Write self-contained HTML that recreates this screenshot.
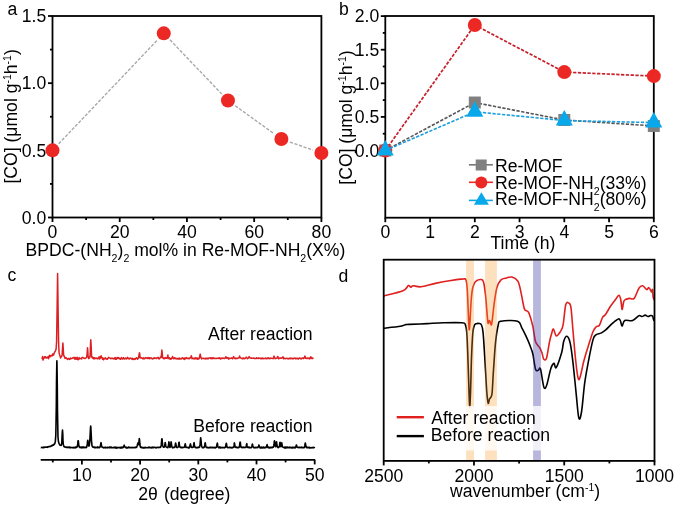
<!DOCTYPE html>
<html><head><meta charset="utf-8"><style>
html,body{margin:0;padding:0;background:#fff;}
svg{display:block;font-family:"Liberation Sans", sans-serif;will-change:transform;}
text{fill:#000;}
</style></head><body>
<svg width="675" height="507" viewBox="0 0 675 507">
<rect width="675" height="507" fill="#fff"/>
<rect x="52.5" y="16.0" width="268.9" height="201.5" fill="none" stroke="#000" stroke-width="1.8"/>
<line x1="52.5" y1="217.5" x2="52.5" y2="222" stroke="#000" stroke-width="1.8" />
<text x="52.5" y="237.6" font-size="17.6" text-anchor="middle" >0</text>
<line x1="119.72" y1="217.5" x2="119.72" y2="222" stroke="#000" stroke-width="1.8" />
<text x="119.72" y="237.6" font-size="17.6" text-anchor="middle" >20</text>
<line x1="186.95" y1="217.5" x2="186.95" y2="222" stroke="#000" stroke-width="1.8" />
<text x="186.95" y="237.6" font-size="17.6" text-anchor="middle" >40</text>
<line x1="254.17" y1="217.5" x2="254.17" y2="222" stroke="#000" stroke-width="1.8" />
<text x="254.17" y="237.6" font-size="17.6" text-anchor="middle" >60</text>
<line x1="321.4" y1="217.5" x2="321.4" y2="222" stroke="#000" stroke-width="1.8" />
<text x="321.4" y="237.6" font-size="17.6" text-anchor="middle" >80</text>
<line x1="86.11" y1="217.5" x2="86.11" y2="220" stroke="#000" stroke-width="1.8" />
<line x1="153.34" y1="217.5" x2="153.34" y2="220" stroke="#000" stroke-width="1.8" />
<line x1="220.56" y1="217.5" x2="220.56" y2="220" stroke="#000" stroke-width="1.8" />
<line x1="287.79" y1="217.5" x2="287.79" y2="220" stroke="#000" stroke-width="1.8" />
<line x1="52.5" y1="217.5" x2="48" y2="217.5" stroke="#000" stroke-width="1.8" />
<text x="46.2" y="223.8" font-size="17.6" text-anchor="end" >0.0</text>
<line x1="52.5" y1="150.33" x2="48" y2="150.33" stroke="#000" stroke-width="1.8" />
<text x="46.2" y="156.63" font-size="17.6" text-anchor="end" >0.5</text>
<line x1="52.5" y1="83.17" x2="48" y2="83.17" stroke="#000" stroke-width="1.8" />
<text x="46.2" y="89.47" font-size="17.6" text-anchor="end" >1.0</text>
<line x1="52.5" y1="16" x2="48" y2="16" stroke="#000" stroke-width="1.8" />
<text x="46.2" y="22.3" font-size="17.6" text-anchor="end" >1.5</text>
<line x1="52.5" y1="183.92" x2="50" y2="183.92" stroke="#000" stroke-width="1.8" />
<line x1="52.5" y1="116.75" x2="50" y2="116.75" stroke="#000" stroke-width="1.8" />
<line x1="52.5" y1="49.58" x2="50" y2="49.58" stroke="#000" stroke-width="1.8" />
<line x1="58.7" y1="143.81" x2="157.56" y2="39.85" stroke="#a6a6a6" stroke-width="1.35" stroke-dasharray="3.2 1.6"/>
<line x1="169.98" y1="39.84" x2="221.74" y2="93.99" stroke="#a6a6a6" stroke-width="1.35" stroke-dasharray="3.2 1.6"/>
<line x1="235.26" y1="105.76" x2="274.1" y2="133.78" stroke="#a6a6a6" stroke-width="1.35" stroke-dasharray="3.2 1.6"/>
<line x1="289.9" y1="142.02" x2="312.9" y2="150.05" stroke="#a6a6a6" stroke-width="1.35" stroke-dasharray="3.2 1.6"/>
<circle cx="52.5" cy="150.33" r="7" fill="#ec2824"/>
<circle cx="163.76" cy="33.33" r="7" fill="#ec2824"/>
<circle cx="227.96" cy="100.5" r="7" fill="#ec2824"/>
<circle cx="281.4" cy="139.05" r="7" fill="#ec2824"/>
<circle cx="321.4" cy="153.02" r="7" fill="#ec2824"/>
<text transform="translate(16.8,116.4) rotate(-90)" font-size="17.6" text-anchor="middle">[CO] (μmol g<tspan font-size="10.5" dy="-6.0">-1</tspan><tspan dy="6.0">h</tspan><tspan font-size="10.5" dy="-6.0">-1</tspan><tspan dy="6.0">)</tspan></text>
<text x="25.6" y="255.8" font-size="17.6">BPDC-(NH<tspan font-size="10.6" dy="6.2">2</tspan><tspan dy="-6.2">)</tspan><tspan font-size="10.6" dy="6.2">2</tspan><tspan dy="-6.2"> mol% in Re-MOF-NH</tspan><tspan font-size="10.6" dy="6.2">2</tspan><tspan dy="-6.2">(X%)</tspan></text>
<text x="7.6" y="14.8" font-size="17.6" text-anchor="start" >a</text>
<rect x="385.3" y="16.0" width="268.5" height="201.7" fill="none" stroke="#000" stroke-width="1.8"/>
<line x1="385.3" y1="217.7" x2="385.3" y2="222.2" stroke="#000" stroke-width="1.8" />
<text x="385.3" y="237.9" font-size="17.6" text-anchor="middle" >0</text>
<line x1="430.05" y1="217.7" x2="430.05" y2="222.2" stroke="#000" stroke-width="1.8" />
<text x="430.05" y="237.9" font-size="17.6" text-anchor="middle" >1</text>
<line x1="474.8" y1="217.7" x2="474.8" y2="222.2" stroke="#000" stroke-width="1.8" />
<text x="474.8" y="237.9" font-size="17.6" text-anchor="middle" >2</text>
<line x1="519.55" y1="217.7" x2="519.55" y2="222.2" stroke="#000" stroke-width="1.8" />
<text x="519.55" y="237.9" font-size="17.6" text-anchor="middle" >3</text>
<line x1="564.3" y1="217.7" x2="564.3" y2="222.2" stroke="#000" stroke-width="1.8" />
<text x="564.3" y="237.9" font-size="17.6" text-anchor="middle" >4</text>
<line x1="609.05" y1="217.7" x2="609.05" y2="222.2" stroke="#000" stroke-width="1.8" />
<text x="609.05" y="237.9" font-size="17.6" text-anchor="middle" >5</text>
<line x1="653.8" y1="217.7" x2="653.8" y2="222.2" stroke="#000" stroke-width="1.8" />
<text x="653.8" y="237.9" font-size="17.6" text-anchor="middle" >6</text>
<line x1="385.3" y1="150.5" x2="380.8" y2="150.5" stroke="#000" stroke-width="1.8" />
<text x="379.2" y="156.8" font-size="17.6" text-anchor="end" >0.0</text>
<line x1="385.3" y1="116.9" x2="380.8" y2="116.9" stroke="#000" stroke-width="1.8" />
<text x="379.2" y="123.2" font-size="17.6" text-anchor="end" >0.5</text>
<line x1="385.3" y1="83.3" x2="380.8" y2="83.3" stroke="#000" stroke-width="1.8" />
<text x="379.2" y="89.6" font-size="17.6" text-anchor="end" >1.0</text>
<line x1="385.3" y1="49.7" x2="380.8" y2="49.7" stroke="#000" stroke-width="1.8" />
<text x="379.2" y="56" font-size="17.6" text-anchor="end" >1.5</text>
<line x1="385.3" y1="16.1" x2="380.8" y2="16.1" stroke="#000" stroke-width="1.8" />
<text x="379.2" y="22.4" font-size="17.6" text-anchor="end" >2.0</text>
<line x1="385.3" y1="133.7" x2="382.8" y2="133.7" stroke="#000" stroke-width="1.8" />
<line x1="385.3" y1="100.1" x2="382.8" y2="100.1" stroke="#000" stroke-width="1.8" />
<line x1="385.3" y1="66.5" x2="382.8" y2="66.5" stroke="#000" stroke-width="1.8" />
<line x1="385.3" y1="32.9" x2="382.8" y2="32.9" stroke="#000" stroke-width="1.8" />
<text transform="translate(352.2,117.5) rotate(-90)" font-size="17.6" text-anchor="middle">[CO] (μmol g<tspan font-size="10.5" dy="-6.0">-1</tspan><tspan dy="6.0">h</tspan><tspan font-size="10.5" dy="-6.0">-1</tspan><tspan dy="6.0">)</tspan></text>
<text x="490.5" y="249" font-size="17.6" text-anchor="start" >Time (h)</text>
<text x="339" y="15.4" font-size="17.6" text-anchor="start" >b</text>
<polyline points="385.3,150.5 474.8,102.52 564.3,119.99 653.8,125.97" fill="none" stroke="#555555" stroke-width="1.6" stroke-dasharray="3.3 1.5"/>
<rect x="379.3" y="144.5" width="12" height="12" fill="#808080"/>
<rect x="468.8" y="96.52" width="12" height="12" fill="#808080"/>
<rect x="558.3" y="113.99" width="12" height="12" fill="#808080"/>
<rect x="647.8" y="119.97" width="12" height="12" fill="#808080"/>
<polyline points="385.3,150.5 474.8,25.04 564.3,72.08 653.8,76.11" fill="none" stroke="#c81f2a" stroke-width="1.7" stroke-dasharray="3.3 1.5"/>
<circle cx="385.3" cy="150.5" r="7" fill="#ec2824"/>
<circle cx="474.8" cy="25.04" r="7" fill="#ec2824"/>
<circle cx="564.3" cy="72.08" r="7" fill="#ec2824"/>
<circle cx="653.8" cy="76.11" r="7" fill="#ec2824"/>
<polyline points="385.3,150.5 474.8,111.79 564.3,120.53 653.8,122.61" fill="none" stroke="#1c9fdc" stroke-width="1.6" stroke-dasharray="3.3 1.5"/>
<polygon points="385.3,140 393.8,155.5 376.8,155.5" fill="#08a8ea"/>
<polygon points="474.8,101.29 483.3,116.79 466.3,116.79" fill="#08a8ea"/>
<polygon points="564.3,110.03 572.8,125.53 555.8,125.53" fill="#08a8ea"/>
<polygon points="653.8,112.11 662.3,127.61 645.3,127.61" fill="#08a8ea"/>
<line x1="468.9" y1="164.8" x2="492.9" y2="164.8" stroke="#777" stroke-width="1.6" />
<rect x="475.7" y="159.5" width="11" height="11" fill="#808080"/>
<text x="495" y="171.5" font-size="17.6" text-anchor="start" >Re-MOF</text>
<line x1="468.9" y1="182.3" x2="492.9" y2="182.3" stroke="#ec2824" stroke-width="1.6" />
<circle cx="481.3" cy="182.5" r="6" fill="#ec2824"/>
<text x="495" y="188.8" font-size="17.6">Re-MOF-NH<tspan font-size="10.6" dy="6.2">2</tspan><tspan dy="-6.2">(33%)</tspan></text>
<line x1="468.9" y1="200.4" x2="492.9" y2="200.4" stroke="#08a8ea" stroke-width="1.6" />
<polygon points="481.4,192.2 488.9,204.8 473.9,204.8" fill="#08a8ea"/>
<text x="495" y="205.1" font-size="17.6">Re-MOF-NH<tspan font-size="10.6" dy="6.2">2</tspan><tspan dy="-6.2">(80%)</tspan></text>
<line x1="40.7" y1="459.9" x2="315.2" y2="459.9" stroke="#000" stroke-width="1.8" />
<line x1="81.9" y1="459.9" x2="81.9" y2="464.4" stroke="#000" stroke-width="1.8" />
<text x="81.9" y="481.4" font-size="17.6" text-anchor="middle" >10</text>
<line x1="140.1" y1="459.9" x2="140.1" y2="464.4" stroke="#000" stroke-width="1.8" />
<text x="140.1" y="481.4" font-size="17.6" text-anchor="middle" >20</text>
<line x1="198.3" y1="459.9" x2="198.3" y2="464.4" stroke="#000" stroke-width="1.8" />
<text x="198.3" y="481.4" font-size="17.6" text-anchor="middle" >30</text>
<line x1="256.5" y1="459.9" x2="256.5" y2="464.4" stroke="#000" stroke-width="1.8" />
<text x="256.5" y="481.4" font-size="17.6" text-anchor="middle" >40</text>
<line x1="314.7" y1="459.9" x2="314.7" y2="464.4" stroke="#000" stroke-width="1.8" />
<text x="314.7" y="481.4" font-size="17.6" text-anchor="middle" >50</text>
<line x1="52.8" y1="459.9" x2="52.8" y2="462.4" stroke="#000" stroke-width="1.8" />
<line x1="111" y1="459.9" x2="111" y2="462.4" stroke="#000" stroke-width="1.8" />
<line x1="169.2" y1="459.9" x2="169.2" y2="462.4" stroke="#000" stroke-width="1.8" />
<line x1="227.4" y1="459.9" x2="227.4" y2="462.4" stroke="#000" stroke-width="1.8" />
<line x1="285.6" y1="459.9" x2="285.6" y2="462.4" stroke="#000" stroke-width="1.8" />
<text x="138.3" y="499.9" font-size="17.6" text-anchor="start" >2θ<tspan dx="1.2"> (degree)</tspan></text>
<text x="7.4" y="281.4" font-size="17.6" text-anchor="start" >c</text>
<text x="208" y="339.9" font-size="17.6" text-anchor="start" >After reaction</text>
<text x="193.2" y="432.3" font-size="17.6" text-anchor="start" >Before reaction</text>
<polyline points="40.8,447.5 41.0,447.6 41.3,447.5 41.5,447.5 41.8,447.3 42.0,447.5 42.3,447.7 42.5,447.6 42.8,447.7 43.0,447.5 43.3,447.5 43.5,447.5 43.8,447.1 44.0,447.6 44.3,447.5 44.5,447.5 44.8,447.0 45.0,447.0 45.3,447.1 45.5,447.2 45.8,447.3 46.0,447.2 46.3,447.3 46.5,447.0 46.8,447.2 47.0,447.2 47.3,446.9 47.5,447.3 47.8,447.1 48.0,447.1 48.3,446.7 48.5,446.6 48.8,446.7 49.0,446.6 49.3,446.7 49.5,446.6 49.8,446.4 50.0,446.2 50.3,446.2 50.5,446.5 50.8,446.0 51.0,446.1 51.3,446.0 51.5,445.6 51.8,445.8 52.0,445.9 52.3,445.2 52.5,445.4 52.8,445.3 53.0,445.0 53.3,445.2 53.5,444.9 53.8,444.4 54.0,444.6 54.3,444.3 54.5,444.0 54.8,443.7 55.0,442.8 55.3,441.7 55.5,439.4 55.8,435.2 56.0,424.9 56.3,406.8 56.5,382.3 56.8,362.9 56.9,360.9 57.0,366.0 57.3,387.2 57.5,411.0 57.8,427.8 58.0,436.8 58.3,440.5 58.5,441.8 58.8,442.6 59.0,443.7 59.3,444.0 59.5,444.2 59.8,444.9 60.0,445.1 60.3,445.1 60.5,445.2 60.8,445.3 61.0,445.5 61.3,445.2 61.5,444.6 61.8,442.6 62.0,437.9 62.3,432.4 62.5,430.0 62.5,430.1 62.8,434.4 63.0,440.5 63.3,444.3 63.5,445.2 63.8,446.0 64.0,446.5 64.3,446.3 64.5,447.0 64.8,446.9 65.0,446.8 65.3,447.0 65.5,447.1 65.8,447.1 66.0,447.3 66.3,447.0 66.5,447.1 66.8,447.4 67.0,447.3 67.3,447.1 67.5,447.5 67.8,447.6 68.0,447.3 68.3,447.1 68.5,447.4 68.8,447.4 69.0,447.4 69.3,447.7 69.5,447.2 69.8,447.7 70.0,447.2 70.3,447.3 70.5,447.6 70.8,447.7 71.0,447.7 71.3,447.6 71.5,447.5 71.8,447.5 72.0,447.6 72.3,447.5 72.5,447.6 72.8,447.6 73.0,447.5 73.3,447.7 73.5,447.6 73.8,447.9 74.0,447.6 74.3,447.4 74.5,447.4 74.8,447.5 75.0,447.7 75.3,447.4 75.5,447.5 75.8,447.8 76.0,446.9 76.3,447.1 76.5,447.4 76.8,447.3 77.0,447.1 77.3,446.5 77.5,445.5 77.8,443.3 78.0,440.9 78.2,440.9 78.3,440.8 78.5,442.6 78.8,445.0 79.0,446.3 79.3,447.0 79.5,446.7 79.8,447.2 80.0,447.6 80.3,447.2 80.5,447.4 80.8,447.6 81.0,447.6 81.3,447.8 81.5,447.1 81.8,447.4 82.0,447.4 82.3,447.6 82.5,447.7 82.8,446.9 83.0,447.7 83.3,447.2 83.5,447.6 83.8,447.1 84.0,447.5 84.3,447.7 84.5,447.4 84.8,447.4 85.0,447.5 85.3,447.4 85.5,447.3 85.8,447.6 86.0,447.4 86.3,447.1 86.5,447.5 86.8,446.4 87.0,445.9 87.3,443.9 87.5,441.5 87.8,440.2 88.0,441.4 88.3,443.8 88.5,445.0 88.8,445.6 89.0,446.1 89.3,445.2 89.5,443.8 89.8,441.1 90.0,437.3 90.3,431.8 90.5,427.5 90.7,426.1 90.8,426.7 91.0,430.4 91.3,436.2 91.5,441.0 91.8,443.6 92.0,445.7 92.3,446.4 92.5,446.6 92.8,446.4 93.0,447.3 93.3,447.1 93.5,447.0 93.8,447.3 94.0,447.3 94.3,447.6 94.5,447.1 94.8,447.6 95.0,447.7 95.3,447.7 95.5,447.4 95.8,447.3 96.0,447.6 96.3,447.5 96.5,447.5 96.8,447.7 97.0,447.4 97.3,447.0 97.5,447.4 97.8,447.1 98.0,447.6 98.3,447.5 98.5,447.3 98.8,447.4 99.0,447.6 99.3,447.4 99.5,447.6 99.8,447.2 100.0,447.2 100.3,446.6 100.5,445.4 100.8,443.4 101.0,443.1 101.0,442.6 101.3,443.9 101.5,445.3 101.8,446.9 102.0,446.9 102.3,447.3 102.5,447.4 102.8,447.4 103.0,447.4 103.3,447.5 103.5,447.9 103.8,447.5 104.0,447.6 104.3,447.7 104.5,447.5 104.8,447.3 105.0,447.4 105.3,447.8 105.5,447.2 105.8,447.4 106.0,447.8 106.3,447.7 106.5,447.6 106.8,447.7 107.0,447.6 107.3,447.3 107.5,447.3 107.8,447.4 108.0,447.8 108.3,447.5 108.5,447.4 108.8,447.4 109.0,447.3 109.3,447.6 109.5,447.3 109.8,447.6 110.0,447.1 110.3,447.6 110.5,447.4 110.8,447.2 111.0,447.7 111.3,447.5 111.5,447.1 111.8,447.4 112.0,447.6 112.3,447.5 112.5,447.7 112.8,447.7 113.0,447.7 113.3,447.6 113.5,447.8 113.8,447.7 114.0,447.7 114.3,447.2 114.5,447.8 114.8,447.8 115.0,447.5 115.3,447.5 115.5,448.0 115.8,447.2 116.0,447.7 116.3,448.1 116.5,447.4 116.8,447.7 117.0,448.0 117.3,447.6 117.5,447.7 117.8,447.8 118.0,447.4 118.3,447.6 118.5,447.6 118.8,447.7 119.0,447.6 119.3,447.5 119.5,447.4 119.8,447.5 120.0,447.8 120.3,447.6 120.5,447.4 120.8,447.4 121.0,448.1 121.3,447.8 121.5,447.7 121.8,447.0 122.0,447.7 122.3,447.6 122.5,447.9 122.8,447.6 123.0,447.4 123.3,447.4 123.5,446.5 123.8,446.4 124.0,445.5 124.2,445.1 124.3,445.6 124.5,446.4 124.8,446.5 125.0,447.1 125.3,447.5 125.5,447.5 125.8,447.4 126.0,447.3 126.3,448.0 126.5,447.8 126.8,447.3 127.0,447.3 127.3,447.9 127.5,447.8 127.8,447.9 128.1,447.7 128.3,447.4 128.6,447.6 128.8,447.1 129.1,447.4 129.3,447.6 129.6,447.7 129.8,447.4 130.1,447.5 130.3,447.7 130.6,447.6 130.8,447.7 131.1,447.6 131.3,447.5 131.6,447.7 131.8,447.6 132.1,447.4 132.3,447.4 132.6,447.6 132.8,447.5 133.1,447.6 133.3,447.5 133.6,447.6 133.8,447.5 134.1,447.3 134.3,447.6 134.6,447.7 134.8,447.6 135.1,447.5 135.3,447.6 135.6,447.3 135.8,447.1 136.1,447.4 136.3,447.2 136.6,447.4 136.8,446.8 137.1,446.0 137.3,445.2 137.6,444.3 137.8,443.1 138.1,443.5 138.3,444.5 138.6,444.7 138.8,442.9 139.1,440.0 139.3,438.6 139.6,440.2 139.8,443.2 140.1,445.6 140.3,446.9 140.6,447.2 140.8,447.4 141.1,447.1 141.3,447.3 141.6,447.6 141.8,447.4 142.1,447.7 142.3,447.6 142.6,447.7 142.8,447.5 143.1,448.0 143.3,447.8 143.6,447.5 143.8,447.6 144.1,448.1 144.3,447.5 144.6,447.7 144.8,447.8 145.1,447.6 145.3,447.3 145.6,447.6 145.8,447.6 146.1,447.8 146.3,447.7 146.6,447.6 146.8,447.7 147.1,447.7 147.3,447.6 147.6,447.6 147.8,447.5 148.1,447.7 148.3,447.4 148.6,447.4 148.8,447.6 149.1,447.3 149.3,447.5 149.6,447.2 149.8,447.4 150.1,447.7 150.3,447.7 150.6,447.6 150.8,447.5 151.1,447.3 151.3,447.9 151.6,447.7 151.8,447.8 152.1,447.4 152.3,447.5 152.6,447.2 152.8,447.7 153.1,447.8 153.3,447.2 153.6,447.6 153.8,447.7 154.1,447.2 154.3,447.2 154.6,447.4 154.8,447.4 155.1,447.3 155.3,447.6 155.6,447.6 155.8,447.7 156.1,447.7 156.3,447.9 156.6,447.8 156.8,447.3 157.1,447.4 157.3,447.3 157.6,447.3 157.8,447.5 158.1,447.5 158.3,447.6 158.6,447.2 158.8,447.2 159.1,447.5 159.3,447.4 159.6,447.4 159.8,447.4 160.1,447.2 160.3,447.4 160.6,447.2 160.8,446.8 161.1,446.0 161.3,444.4 161.6,441.1 161.8,438.9 161.9,438.8 162.1,439.1 162.3,442.2 162.6,444.8 162.8,446.0 163.1,446.8 163.3,447.0 163.6,447.3 163.8,447.3 164.1,447.2 164.3,446.8 164.6,446.4 164.8,445.0 165.1,443.2 165.2,442.6 165.3,442.7 165.6,444.4 165.8,446.2 166.1,446.9 166.3,447.0 166.6,447.3 166.8,447.2 167.1,447.4 167.3,447.5 167.6,447.2 167.8,447.7 168.1,446.9 168.3,446.4 168.6,444.6 168.8,442.8 168.9,441.9 169.1,442.7 169.3,444.9 169.6,446.5 169.8,447.4 170.1,447.1 170.3,447.0 170.6,445.9 170.8,443.9 171.1,442.1 171.1,441.9 171.3,443.0 171.6,444.9 171.8,446.8 172.1,446.9 172.3,447.3 172.6,447.8 172.8,447.4 173.1,447.4 173.3,447.7 173.6,447.4 173.8,447.3 174.1,447.5 174.3,447.5 174.6,447.4 174.8,446.8 175.1,446.5 175.3,444.8 175.6,443.0 175.6,443.0 175.8,443.6 176.1,445.8 176.3,446.6 176.6,447.3 176.8,447.2 177.1,447.2 177.3,447.5 177.6,447.6 177.8,447.3 178.1,447.0 178.3,446.7 178.6,445.1 178.8,443.0 179.0,442.3 179.1,442.2 179.3,443.7 179.6,446.3 179.8,446.9 180.1,447.4 180.3,447.2 180.6,447.4 180.8,447.1 181.1,447.8 181.3,447.8 181.6,447.3 181.8,447.2 182.1,447.2 182.3,447.7 182.6,447.4 182.8,447.5 183.1,447.4 183.3,447.5 183.6,447.3 183.8,447.5 184.1,447.1 184.3,447.2 184.6,446.9 184.8,445.9 185.1,444.3 185.2,443.8 185.3,444.2 185.6,445.4 185.8,447.0 186.1,447.4 186.3,447.4 186.6,447.3 186.8,447.3 187.1,447.3 187.3,447.4 187.6,447.6 187.8,447.6 188.1,447.6 188.3,447.9 188.6,447.3 188.8,447.5 189.1,448.0 189.3,447.0 189.6,447.1 189.8,446.7 190.1,445.5 190.3,444.2 190.4,443.9 190.6,444.4 190.8,445.8 191.1,447.0 191.3,446.9 191.6,447.2 191.8,447.4 192.1,447.2 192.3,447.2 192.6,447.5 192.8,447.2 193.1,447.3 193.3,446.9 193.6,445.6 193.8,443.9 194.0,442.9 194.1,442.7 194.3,444.5 194.6,446.3 194.8,446.9 195.1,447.3 195.3,447.5 195.6,447.3 195.8,447.6 196.1,447.8 196.3,447.4 196.6,447.5 196.8,447.5 197.1,447.8 197.3,447.5 197.6,447.6 197.8,447.3 198.1,447.4 198.3,447.4 198.6,447.0 198.8,447.6 199.1,447.4 199.3,446.8 199.6,447.0 199.8,446.2 200.1,444.6 200.3,441.7 200.6,438.2 200.7,437.7 200.8,438.4 201.1,440.8 201.3,443.8 201.6,445.7 201.8,446.5 202.1,447.2 202.3,447.6 202.6,447.4 202.8,447.4 203.1,447.8 203.3,447.3 203.6,447.2 203.8,447.5 204.1,447.4 204.3,446.9 204.6,446.3 204.8,445.3 205.1,443.5 205.2,442.7 205.3,443.1 205.6,444.8 205.8,446.5 206.1,447.1 206.3,447.3 206.6,447.3 206.8,447.7 207.1,447.8 207.3,447.4 207.6,447.7 207.8,447.4 208.1,447.6 208.3,447.7 208.6,447.9 208.8,447.5 209.1,447.5 209.3,447.6 209.6,447.3 209.8,447.6 210.1,447.4 210.3,447.6 210.6,447.3 210.8,447.2 211.1,447.6 211.3,447.6 211.6,447.5 211.8,447.7 212.1,447.5 212.3,447.4 212.6,447.7 212.8,447.3 213.1,447.4 213.3,447.6 213.6,447.7 213.8,447.5 214.1,447.6 214.3,447.4 214.6,447.6 214.8,447.9 215.1,447.4 215.3,448.0 215.6,447.4 215.8,447.5 216.1,447.4 216.3,447.5 216.6,446.7 216.8,445.5 217.1,444.3 217.3,443.1 217.6,444.3 217.8,446.5 218.1,447.0 218.3,447.3 218.6,447.6 218.8,447.5 219.1,447.8 219.3,447.3 219.6,447.5 219.8,446.8 220.1,447.7 220.3,447.5 220.6,447.7 220.8,448.0 221.1,447.6 221.3,447.5 221.6,447.5 221.8,447.4 222.1,447.4 222.3,447.7 222.6,447.6 222.8,447.6 223.1,447.5 223.3,447.7 223.6,447.6 223.8,447.5 224.1,447.7 224.3,447.5 224.6,447.3 224.8,447.8 225.1,447.5 225.3,447.1 225.6,447.2 225.8,446.0 226.1,443.8 226.3,443.3 226.6,444.2 226.8,446.1 227.1,447.0 227.3,447.3 227.6,447.1 227.8,447.7 228.1,447.5 228.3,447.5 228.6,447.6 228.8,447.5 229.1,447.7 229.3,447.5 229.6,447.5 229.8,447.1 230.1,447.5 230.3,447.7 230.6,447.8 230.8,447.5 231.1,447.5 231.3,447.9 231.6,447.5 231.8,447.7 232.1,447.9 232.3,447.5 232.6,447.7 232.8,447.3 233.1,447.5 233.3,447.3 233.6,447.1 233.8,446.7 234.1,445.4 234.3,443.1 234.4,442.9 234.6,443.6 234.8,445.1 235.1,446.7 235.3,447.3 235.6,447.3 235.8,447.5 236.1,447.2 236.3,447.6 236.6,447.2 236.8,447.4 237.1,447.4 237.3,447.4 237.6,447.7 237.8,447.5 238.1,447.4 238.3,447.6 238.6,447.7 238.8,447.4 239.1,447.3 239.3,447.1 239.6,445.8 239.8,443.3 240.1,442.2 240.1,442.0 240.3,442.2 240.6,445.0 240.8,446.6 241.1,447.3 241.3,447.5 241.6,447.4 241.8,447.2 242.1,447.5 242.3,447.7 242.6,447.3 242.8,447.3 243.1,447.5 243.3,447.1 243.6,447.5 243.8,447.4 244.1,447.6 244.3,447.4 244.6,447.3 244.8,447.4 245.1,447.5 245.3,447.3 245.6,447.4 245.8,447.4 246.1,447.1 246.3,446.1 246.6,444.2 246.7,443.9 246.8,443.7 247.1,445.9 247.3,446.5 247.6,447.2 247.8,447.5 248.1,447.2 248.3,447.6 248.6,447.5 248.8,447.2 249.1,447.6 249.3,447.8 249.6,447.2 249.8,447.7 250.1,447.6 250.3,447.6 250.6,447.6 250.8,447.7 251.1,447.4 251.3,447.6 251.6,447.1 251.8,446.8 252.1,445.3 252.3,444.1 252.4,444.3 252.6,444.4 252.8,445.7 253.1,446.6 253.3,447.1 253.6,447.5 253.8,447.7 254.1,447.6 254.3,447.6 254.6,447.5 254.8,447.8 255.1,447.5 255.3,447.4 255.6,447.7 255.8,447.6 256.1,447.5 256.3,447.4 256.6,447.5 256.8,447.7 257.1,447.6 257.3,447.3 257.6,447.6 257.8,447.5 258.1,447.1 258.3,447.1 258.6,446.0 258.8,445.0 258.9,445.1 259.1,445.5 259.3,446.1 259.6,447.1 259.8,447.2 260.1,447.9 260.3,447.4 260.6,447.8 260.8,447.4 261.1,447.7 261.3,448.0 261.6,447.0 261.8,447.5 262.1,447.7 262.3,447.5 262.6,447.4 262.8,448.0 263.1,447.6 263.3,447.2 263.6,447.7 263.8,447.2 264.1,447.8 264.3,447.4 264.6,447.6 264.8,447.8 265.1,447.6 265.3,447.2 265.6,447.2 265.8,447.7 266.1,447.5 266.3,447.0 266.6,446.6 266.8,445.5 267.0,445.1 267.1,444.6 267.3,445.8 267.6,447.0 267.8,447.4 268.1,447.6 268.3,447.0 268.6,447.5 268.8,447.6 269.1,448.0 269.3,447.3 269.6,447.5 269.8,447.5 270.1,447.7 270.3,447.4 270.6,447.8 270.8,447.4 271.1,447.6 271.3,447.4 271.6,447.5 271.8,447.3 272.1,447.1 272.3,447.7 272.6,447.5 272.8,447.2 273.1,447.3 273.3,447.2 273.6,446.3 273.8,445.2 274.1,443.2 274.3,441.3 274.4,440.9 274.6,441.1 274.8,443.8 275.1,445.5 275.3,446.4 275.6,446.7 275.8,446.4 276.1,444.9 276.3,442.6 276.5,441.7 276.6,441.8 276.8,443.6 277.1,445.5 277.3,446.9 277.6,446.9 277.8,447.4 278.1,447.1 278.3,447.4 278.6,447.6 278.8,447.3 279.1,447.0 279.3,446.6 279.6,445.3 279.8,442.9 280.0,442.2 280.1,442.4 280.3,443.9 280.6,445.8 280.8,446.7 281.1,446.5 281.3,445.3 281.6,443.4 281.7,442.8 281.8,443.1 282.1,444.8 282.3,446.3 282.6,447.0 282.8,447.0 283.1,447.3 283.3,447.4 283.6,447.3 283.8,447.5 284.1,447.6 284.3,447.5 284.6,447.9 284.8,447.0 285.1,447.5 285.3,447.2 285.6,447.8 285.8,448.1 286.1,447.1 286.3,447.6 286.6,447.7 286.8,447.5 287.1,447.7 287.3,447.1 287.6,447.7 287.8,447.6 288.1,447.6 288.3,447.5 288.6,447.7 288.8,447.5 289.1,447.6 289.3,447.5 289.6,447.1 289.8,447.6 290.1,447.6 290.3,447.7 290.6,447.4 290.8,447.6 291.1,447.7 291.3,447.6 291.6,447.8 291.8,448.0 292.1,447.4 292.3,447.2 292.6,447.7 292.8,447.9 293.1,447.8 293.3,447.7 293.6,447.4 293.8,447.4 294.1,447.7 294.3,447.4 294.6,447.2 294.8,447.3 295.1,448.0 295.3,447.8 295.6,447.2 295.8,446.8 296.1,446.1 296.3,445.0 296.4,445.3 296.6,445.2 296.8,446.1 297.1,447.3 297.3,447.3 297.6,447.5 297.8,447.5 298.1,447.5 298.3,447.6 298.6,447.4 298.8,447.2 299.1,447.1 299.3,447.3 299.6,447.4 299.8,447.6 300.1,447.6 300.3,447.7 300.6,447.6 300.8,447.4 301.1,447.4 301.3,447.1 301.6,447.5 301.8,447.7 302.1,447.7 302.3,447.5 302.6,447.5 302.8,447.7 303.1,447.5 303.3,447.7 303.6,447.6 303.8,447.5 304.1,447.7 304.3,447.2 304.6,446.8 304.8,445.7 305.1,443.8 305.3,443.0 305.6,444.3 305.8,445.8 306.1,447.0 306.3,447.5 306.6,447.6 306.8,447.7 307.1,447.2 307.3,447.4 307.6,447.6 307.8,447.8 308.1,447.6 308.3,447.4 308.6,447.5 308.8,447.4 309.1,447.4 309.3,447.9 309.6,447.5 309.8,447.6 310.1,448.0 310.3,447.8 310.6,447.7 310.8,447.5 311.1,447.7 311.3,447.9 311.6,447.7 311.8,447.8 312.1,447.6 312.3,447.7 312.6,447.6 312.8,447.7 313.1,447.9 313.3,447.3 313.6,447.6 313.8,447.6 314.1,447.5 314.3,447.5 314.6,447.8 314.8,448.0" fill="none" stroke="#000" stroke-width="1.6" stroke-linejoin="round"/>
<polyline points="41.6,358.9 42.1,358.5 42.6,356.6 43.1,360.1 43.6,358.1 44.1,358.0 44.6,356.8 45.1,357.8 45.6,356.7 46.1,357.8 46.6,358.1 47.1,357.6 47.6,357.7 48.1,356.5 48.6,358.7 49.1,356.6 49.6,355.3 50.1,356.8 50.6,356.0 51.1,355.5 51.6,355.8 52.1,356.0 52.6,353.9 53.1,354.3 53.6,355.1 54.1,353.6 54.6,352.0 55.1,351.6 55.6,350.5 56.1,349.0 56.6,341.2 57.1,308.7 57.6,273.4 58.1,310.2 58.6,342.9 59.1,353.1 59.6,354.7 60.1,356.2 60.6,358.1 61.1,356.4 61.6,356.4 62.1,354.9 62.6,346.7 62.9,343.0 63.1,346.4 63.6,354.7 64.1,356.3 64.6,357.0 65.1,358.4 65.6,357.6 66.1,357.9 66.6,358.4 67.1,359.0 67.6,359.4 68.1,358.9 68.6,358.4 69.1,358.4 69.6,359.4 70.1,359.2 70.6,358.1 71.1,358.6 71.6,358.5 72.1,358.4 72.6,358.0 73.1,357.5 73.6,358.0 74.1,357.4 74.6,359.1 75.1,358.7 75.6,357.6 76.1,359.2 76.6,358.9 77.1,357.2 77.6,359.5 78.1,358.8 78.6,359.6 79.1,357.6 79.6,358.7 80.1,358.6 80.6,358.5 81.1,358.5 81.6,359.0 82.1,357.4 82.6,357.6 83.1,357.5 83.6,358.0 84.1,357.9 84.6,358.5 85.1,358.4 85.6,358.2 86.1,357.7 86.6,357.4 87.1,354.1 87.5,347.7 87.6,348.0 88.1,355.9 88.6,358.6 89.1,357.4 89.6,357.9 90.1,355.7 90.6,342.4 90.8,339.7 91.1,345.0 91.6,356.7 92.1,357.8 92.6,357.1 93.1,358.5 93.6,357.7 94.1,359.0 94.6,357.9 95.1,358.2 95.6,358.5 96.1,358.1 96.6,358.5 97.1,358.0 97.6,358.8 98.1,358.4 98.6,358.5 99.1,356.7 99.6,359.0 100.1,358.3 100.6,356.8 101.1,355.8 101.2,355.9 101.6,357.8 102.1,357.6 102.6,359.2 103.1,358.2 103.6,359.8 104.1,358.3 104.6,358.8 105.1,358.2 105.6,357.7 106.1,359.0 106.6,358.9 107.1,359.3 107.6,358.9 108.1,358.0 108.6,357.4 109.1,358.0 109.6,358.0 110.1,357.9 110.6,358.7 111.1,358.6 111.6,358.2 112.1,358.5 112.6,358.3 113.1,358.5 113.6,358.8 114.1,359.0 114.6,358.0 115.1,357.5 115.6,359.2 116.1,358.5 116.6,359.1 117.1,357.4 117.6,358.2 118.1,358.4 118.6,357.5 119.1,358.1 119.6,358.8 120.1,359.0 120.6,359.3 121.1,357.9 121.6,357.6 122.1,358.7 122.6,359.0 123.1,358.5 123.6,357.6 124.1,358.9 124.6,358.9 125.1,358.7 125.6,358.1 126.1,358.6 126.6,358.9 127.1,358.1 127.6,357.3 128.1,358.6 128.6,358.7 129.1,358.4 129.6,358.9 130.1,358.0 130.6,358.3 131.1,358.2 131.6,358.7 132.1,359.3 132.6,358.2 133.1,359.6 133.6,359.3 134.1,358.9 134.6,358.7 135.1,359.4 135.6,358.3 136.1,358.3 136.6,357.7 137.1,358.6 137.6,359.1 138.1,358.5 138.6,357.8 139.1,354.4 139.4,353.0 139.6,352.9 140.1,357.7 140.6,357.9 141.1,357.8 141.6,358.0 142.1,358.0 142.6,358.7 143.1,358.8 143.6,357.8 144.1,358.8 144.6,358.8 145.1,358.1 145.6,357.7 146.1,358.1 146.6,358.1 147.1,358.5 147.6,358.2 148.1,357.5 148.6,358.5 149.1,357.7 149.6,358.8 150.1,357.8 150.6,358.1 151.1,358.0 151.6,358.1 152.1,359.0 152.6,358.8 153.1,358.7 153.6,358.5 154.1,357.7 154.6,358.2 155.1,358.1 155.6,357.9 156.1,358.6 156.6,358.0 157.1,358.1 157.6,357.9 158.1,357.4 158.6,358.6 159.1,358.9 159.6,358.4 160.1,357.8 160.6,356.9 161.1,357.5 161.6,353.3 161.9,350.0 162.1,351.8 162.6,357.6 163.1,358.5 163.6,358.0 164.1,358.7 164.6,358.7 165.1,357.6 165.6,358.1 166.1,357.7 166.6,358.2 167.1,358.4 167.6,356.3 167.9,355.1 168.1,357.0 168.6,358.1 169.1,358.9 169.6,357.7 170.1,358.8 170.6,359.3 171.1,359.2 171.6,358.2 172.1,357.8 172.6,356.4 173.1,358.2 173.6,358.7 174.1,358.4 174.6,357.7 175.1,358.7 175.6,358.2 176.1,358.7 176.6,358.5 177.1,359.1 177.6,358.9 178.1,358.2 178.6,358.5 179.1,359.2 179.6,358.1 180.1,358.6 180.6,358.9 181.1,359.0 181.6,358.6 182.1,357.8 182.6,357.8 183.1,358.5 183.6,358.6 184.1,359.5 184.6,358.0 185.1,358.9 185.6,358.7 186.1,357.6 186.6,358.0 187.1,358.5 187.6,358.2 188.1,358.3 188.6,358.6 189.1,358.0 189.6,358.6 190.1,358.0 190.6,357.7 191.1,356.7 191.3,355.7 191.6,356.9 192.1,358.8 192.6,358.3 193.1,358.3 193.6,358.7 194.1,358.2 194.6,358.9 195.1,357.8 195.6,358.7 196.1,358.1 196.6,358.0 197.1,359.2 197.6,358.0 198.1,359.1 198.6,358.6 199.1,358.8 199.6,356.8 200.1,354.3 200.2,354.1 200.6,356.0 201.1,358.0 201.6,359.0 202.1,358.4 202.6,358.2 203.1,358.2 203.6,358.5 204.1,358.5 204.6,358.4 205.1,358.9 205.6,358.3 206.1,358.5 206.6,358.8 207.1,358.1 207.6,358.7 208.1,358.9 208.6,358.0 209.1,358.1 209.6,358.1 210.1,357.8 210.6,358.5 211.1,357.8 211.6,358.5 212.1,358.8 212.6,357.9 213.1,358.3 213.6,357.8 214.1,358.6 214.6,358.2 215.1,358.3 215.6,358.4 216.1,358.6 216.6,358.3 217.1,358.4 217.6,358.2 218.1,358.4 218.6,358.0 219.1,358.4 219.6,357.8 220.1,358.2 220.6,359.0 221.1,358.4 221.6,358.0 222.1,358.5 222.6,358.1 223.1,357.9 223.6,358.2 224.1,358.6 224.6,358.5 225.1,358.2 225.6,357.2 225.9,356.7 226.1,357.6 226.6,358.2 227.1,358.1 227.6,357.7 228.1,358.0 228.6,359.1 229.1,358.0 229.6,358.4 230.1,358.4 230.6,358.3 231.1,358.3 231.6,358.0 232.1,358.0 232.6,358.8 233.1,357.5 233.5,357.2 233.6,356.6 234.1,358.0 234.6,358.4 235.1,358.7 235.6,358.0 236.1,358.6 236.6,358.5 237.1,358.2 237.6,358.5 238.1,358.1 238.6,358.1 239.1,358.0 239.6,356.1 239.7,356.8 240.1,357.3 240.6,357.8 241.1,358.2 241.6,358.6 242.1,358.3 242.6,358.8 243.1,358.0 243.6,358.0 244.1,358.8 244.6,358.5 245.1,358.6 245.6,357.9 246.1,357.5 246.3,357.1 246.6,357.7 247.1,358.2 247.6,358.7 248.1,358.1 248.6,357.7 249.1,356.6 249.2,357.3 249.6,357.5 250.1,358.0 250.6,358.1 251.1,358.2 251.6,358.0 252.1,358.3 252.6,358.2 253.1,358.2 253.6,358.1 254.1,358.4 254.6,358.3 255.1,358.4 255.6,358.5 256.1,358.5 256.6,357.7 257.1,358.2 257.6,358.2 258.1,358.6 258.6,357.9 259.1,358.2 259.6,358.3 260.1,358.3 260.6,358.7 261.1,358.3 261.6,358.7 262.1,358.0 262.6,357.9 263.1,358.8 263.6,358.5 264.1,358.5 264.6,358.4 265.1,358.5 265.6,358.0 266.1,358.7 266.6,358.2 267.1,358.7 267.6,358.4 268.1,357.8 268.6,358.0 269.1,358.7 269.6,358.3 270.1,358.3 270.6,358.5 271.1,358.2 271.6,358.2 272.1,358.4 272.6,358.4 273.1,358.7 273.6,357.4 274.1,356.1 274.6,357.9 275.1,358.7 275.6,358.6 276.1,358.3 276.6,358.3 277.1,357.9 277.6,356.4 277.7,356.5 278.1,357.2 278.6,358.7 279.1,358.5 279.6,358.2 280.1,357.8 280.6,358.3 281.1,358.2 281.6,358.0 282.1,357.9 282.6,357.0 283.0,357.2 283.1,357.0 283.6,358.8 284.1,358.3 284.6,358.3 285.1,358.8 285.6,358.4 286.1,358.4 286.6,358.3 287.1,358.2 287.6,358.8 288.1,358.7 288.6,358.9 289.1,358.3 289.6,358.4 290.1,358.1 290.6,358.7 291.1,358.0 291.6,358.6 292.1,358.7 292.6,358.8 293.1,358.1 293.6,358.7 294.1,358.2 294.6,358.2 295.1,358.0 295.6,358.7 296.1,358.9 296.6,358.2 297.1,358.2 297.6,358.3 298.1,359.1 298.6,358.7 299.1,358.2 299.6,357.9 300.1,358.2 300.6,358.7 301.1,359.0 301.6,358.3 302.1,358.2 302.6,358.2 303.1,357.8 303.6,358.6 304.1,357.8 304.6,357.5 304.9,356.0 305.1,356.4 305.6,358.2 306.1,358.1 306.6,358.6 307.1,358.4 307.6,358.0 308.1,358.6 308.6,358.6 309.1,357.8 309.6,358.9 310.1,358.4 310.6,357.7 310.8,356.7 311.1,357.5 311.6,358.2 312.1,358.7 312.6,357.9 313.1,358.1 313.6,357.8" fill="none" stroke="#dc1f22" stroke-width="1.5" stroke-linejoin="round"/>
<path d="M383.7,296.0 C386.9,295.1 398.8,292.5 402.9,290.8 C407.0,289.1 407.1,286.2 408.4,285.6 C409.7,285.0 410.0,287.2 410.8,287.2 C411.6,287.2 411.5,285.8 413.2,285.7 C414.9,285.6 417.3,287.2 421.0,286.8 C424.7,286.4 430.3,284.4 435.3,283.4 C440.3,282.3 446.3,281.2 451.0,280.5 C455.7,279.8 461.3,279.1 463.7,278.9 C466.1,278.6 464.9,278.6 465.4,279.0 C465.8,279.4 466.1,279.7 466.4,281.5 C466.7,283.3 467.0,285.2 467.3,290.0 C467.6,294.8 467.9,303.4 468.2,310.0 C468.5,316.6 468.9,328.3 469.2,329.6 C469.5,330.9 469.9,322.9 470.2,318.0 C470.5,313.1 470.8,304.8 471.2,300.0 C471.6,295.2 471.9,291.8 472.5,289.0 C473.1,286.2 473.8,284.4 474.5,283.0 C475.2,281.6 476.1,281.1 477.0,280.5 C477.9,279.9 479.1,279.6 480.0,279.5 C480.9,279.4 481.8,279.2 482.5,280.0 C483.2,280.8 483.5,281.5 484.0,284.0 C484.5,286.5 485.0,290.7 485.5,295.0 C486.0,299.3 486.4,305.3 486.8,310.0 C487.2,314.7 487.6,321.2 488.0,323.0 C488.4,324.8 488.8,320.7 489.2,320.5 C489.6,320.3 489.8,321.3 490.2,322.0 C490.6,322.7 491.0,325.5 491.4,324.8 C491.8,324.1 492.1,321.3 492.5,318.0 C492.9,314.7 493.3,310.1 494.0,305.0 C494.7,299.9 495.7,291.8 496.9,287.6 C498.1,283.4 499.4,281.5 501.0,279.9 C502.6,278.3 504.8,278.4 506.6,277.9 C508.4,277.4 510.2,276.6 512.0,277.1 C513.8,277.6 516.3,279.1 517.6,280.7 C518.9,282.3 519.1,284.5 519.8,287.0 C520.5,289.5 520.9,292.2 521.7,295.9 C522.5,299.6 523.4,306.4 524.5,309.1 C525.6,311.9 527.2,309.5 528.6,312.4 C530.0,315.2 531.6,321.4 532.8,326.2 C533.9,331.0 534.4,337.8 535.5,341.4 C536.6,345.0 538.6,345.8 539.7,347.7 C540.8,349.6 541.3,351.1 542.0,353.0 C542.7,354.9 543.0,358.5 543.8,359.3 C544.6,360.1 545.7,360.6 546.6,357.9 C547.5,355.1 548.5,346.8 549.3,342.8 C550.1,338.8 550.8,336.3 551.5,334.0 C552.2,331.7 552.6,328.7 553.4,329.0 C554.2,329.3 555.1,335.4 556.2,335.9 C557.4,336.3 559.1,333.5 560.3,331.7 C561.4,329.9 562.2,329.3 563.1,324.8 C564.0,320.3 564.8,308.3 565.7,304.7 C566.7,301.1 567.9,302.6 568.8,303.1 C569.7,303.6 570.3,302.9 571.0,307.9 C571.7,312.9 572.4,324.2 573.2,333.1 C574.0,342.0 574.9,353.9 575.8,361.5 C576.6,369.1 577.5,376.4 578.3,378.8 C579.1,381.2 579.6,378.6 580.5,375.7 C581.4,372.8 582.4,366.5 583.7,361.5 C585.0,356.5 586.8,350.7 588.4,345.7 C590.0,340.7 591.8,334.6 593.1,331.5 C594.4,328.4 595.2,327.9 596.3,326.8 C597.3,325.8 598.3,326.8 599.4,325.2 C600.5,323.6 601.5,319.1 602.6,317.3 C603.7,315.5 604.4,316.0 605.7,314.2 C607.0,312.4 608.9,308.7 610.5,306.3 C612.1,303.9 613.8,301.9 615.2,300.0 C616.6,298.1 618.1,295.2 619.0,295.2 C619.9,295.2 620.3,297.6 620.8,300.0 C621.3,302.4 621.7,308.9 622.1,309.4 C622.5,309.9 623.0,304.6 623.4,303.0 C623.8,301.4 623.7,300.8 624.7,300.0 C625.7,299.2 627.8,298.7 629.4,298.4 C631.0,298.1 632.5,300.1 634.1,298.4 C635.7,296.7 637.5,290.4 638.9,288.3 C640.3,286.2 641.3,285.6 642.6,285.8 C643.9,286.0 645.8,289.3 646.8,289.6 C647.8,289.9 648.0,287.6 648.5,287.5 C649.0,287.4 649.4,288.1 649.9,288.9 C650.4,289.6 651.1,291.9 651.5,292.0 C651.9,292.1 652.2,288.7 652.5,289.5 C652.8,290.3 652.8,295.1 653.1,296.8 C653.4,298.6 654.1,299.5 654.3,300.0" fill="none" stroke="#e0201f" stroke-width="1.6" stroke-linejoin="round"/>
<path d="M383.7,328.2 C386.5,327.9 396.9,326.9 400.5,326.3 C404.1,325.7 403.9,325.0 405.3,324.7 C406.8,324.4 405.5,324.6 409.2,324.4 C412.9,324.2 421.7,323.9 427.4,323.6 C433.1,323.3 437.4,322.9 443.2,322.8 C449.0,322.7 458.4,322.5 462.1,322.8 C465.8,323.1 464.5,323.0 465.3,324.7 C466.1,326.4 466.4,327.9 466.8,333.0 C467.2,338.1 467.5,346.3 467.8,355.0 C468.1,363.7 468.5,376.4 468.8,385.0 C469.1,393.6 469.4,405.9 469.7,406.7 C470.0,407.5 470.3,398.6 470.6,390.0 C470.9,381.4 471.2,364.5 471.6,355.0 C472.0,345.5 472.4,337.9 472.8,333.0 C473.2,328.1 473.7,327.1 474.3,325.5 C474.9,323.9 475.5,324.0 476.3,323.7 C477.1,323.4 478.1,323.3 479.0,323.5 C479.9,323.7 480.8,323.6 481.5,325.0 C482.2,326.4 482.5,327.8 483.0,332.0 C483.5,336.2 483.9,343.3 484.3,350.0 C484.7,356.7 485.2,365.0 485.6,372.0 C486.0,379.0 486.4,386.8 486.8,392.0 C487.2,397.2 487.8,402.0 488.2,403.2 C488.6,404.4 489.0,400.0 489.5,399.0 C490.0,398.0 490.6,398.2 491.0,397.0 C491.4,395.8 491.8,396.5 492.2,392.0 C492.6,387.5 492.9,378.2 493.5,370.0 C494.1,361.8 494.7,350.3 495.5,342.8 C496.3,335.3 497.4,328.4 498.3,324.8 C499.2,321.2 497.8,321.8 501.0,321.2 C504.2,320.6 514.1,320.1 517.6,321.2 C521.1,322.3 520.3,325.2 521.7,327.6 C523.1,330.1 524.5,332.9 525.9,335.9 C527.3,338.9 528.9,342.5 530.0,345.5 C531.1,348.5 531.9,349.9 532.8,353.8 C533.7,357.7 534.6,366.2 535.5,369.0 C536.4,371.8 537.5,370.3 538.3,370.3 C539.1,370.3 539.6,366.2 540.5,369.0 C541.4,371.8 542.8,384.1 543.8,386.9 C544.8,389.6 545.5,388.5 546.6,385.5 C547.8,382.5 549.5,372.7 550.7,369.0 C551.9,365.3 553.1,363.6 554.0,363.4 C554.9,363.2 554.9,369.4 556.2,367.6 C557.5,365.8 560.4,356.8 561.7,352.4 C563.0,348.0 562.9,343.7 563.8,341.0 C564.7,338.3 565.8,335.9 566.9,336.2 C568.0,336.5 569.0,337.9 570.1,342.6 C571.2,347.3 572.2,355.7 573.2,364.6 C574.2,373.5 575.5,387.2 576.4,396.2 C577.3,405.1 578.0,415.7 578.9,418.3 C579.8,420.9 580.5,417.8 581.5,412.0 C582.5,406.2 583.5,392.0 584.6,383.6 C585.8,375.2 587.0,368.9 588.4,361.5 C589.8,354.1 591.8,343.9 593.1,339.4 C594.4,334.9 595.0,335.8 596.3,334.7 C597.6,333.6 599.4,333.9 601.0,333.1 C602.6,332.3 603.9,331.5 605.7,329.9 C607.6,328.3 610.0,325.4 612.1,323.6 C614.2,321.8 617.0,319.3 618.4,318.9 C619.8,318.5 619.9,319.8 620.5,321.0 C621.1,322.2 621.4,326.3 622.1,326.2 C622.8,326.1 623.0,321.4 624.7,320.5 C626.5,319.6 630.2,321.3 632.6,320.5 C635.0,319.7 637.3,316.4 638.9,315.7 C640.5,315.0 641.0,316.6 642.0,316.5 C643.0,316.4 644.2,315.1 645.2,315.1 C646.2,315.1 647.1,316.4 648.0,316.5 C648.9,316.6 649.8,315.6 650.5,315.5 C651.2,315.4 652.0,315.3 652.5,316.0 C653.0,316.7 653.2,318.7 653.5,319.5 C653.8,320.3 654.2,320.8 654.3,321.0" fill="none" stroke="#000" stroke-width="1.6" stroke-linejoin="round"/>
<rect x="466.1" y="259.7" width="7.9" height="201.2" fill="rgb(248,152,38)" fill-opacity="0.3" />
<rect x="485.1" y="259.7" width="11.8" height="201.2" fill="rgb(248,152,38)" fill-opacity="0.3" />
<rect x="533.1" y="259.7" width="7.8" height="201.2" fill="rgb(52,46,155)" fill-opacity="0.35" />
<rect x="392" y="406" width="160" height="44.5" fill="#fff" fill-opacity="0.8"/>
<line x1="396.7" y1="417.2" x2="423.9" y2="417.2" stroke="#e0201f" stroke-width="2.4" />
<line x1="396.7" y1="436.1" x2="423.9" y2="436.1" stroke="#000" stroke-width="2.4" />
<text x="431.2" y="423.7" font-size="17.6" text-anchor="start" >After reaction</text>
<text x="430.8" y="441.3" font-size="17.6" text-anchor="start" >Before reaction</text>
<rect x="383.7" y="259.7" width="270.8" height="201.2" fill="none" stroke="#000" stroke-width="1.8"/>
<line x1="383.7" y1="460.9" x2="383.7" y2="465.4" stroke="#000" stroke-width="1.8" />
<text x="383.7" y="481.6" font-size="17.6" text-anchor="middle" >2500</text>
<line x1="473.97" y1="460.9" x2="473.97" y2="465.4" stroke="#000" stroke-width="1.8" />
<text x="473.97" y="481.6" font-size="17.6" text-anchor="middle" >2000</text>
<line x1="564.23" y1="460.9" x2="564.23" y2="465.4" stroke="#000" stroke-width="1.8" />
<text x="564.23" y="481.6" font-size="17.6" text-anchor="middle" >1500</text>
<line x1="654.5" y1="460.9" x2="654.5" y2="465.4" stroke="#000" stroke-width="1.8" />
<text x="654.5" y="481.6" font-size="17.6" text-anchor="middle" >1000</text>
<line x1="428.83" y1="460.9" x2="428.83" y2="463.4" stroke="#000" stroke-width="1.8" />
<line x1="519.1" y1="460.9" x2="519.1" y2="463.4" stroke="#000" stroke-width="1.8" />
<line x1="609.37" y1="460.9" x2="609.37" y2="463.4" stroke="#000" stroke-width="1.8" />
<text x="450" y="496.6" font-size="17.6">wavenumber (cm<tspan font-size="10.4" dy="-5.6">-1</tspan><tspan dy="5.6">)</tspan></text>
<text x="338.4" y="281.5" font-size="17.6" text-anchor="start" >d</text>
</svg>
</body></html>
